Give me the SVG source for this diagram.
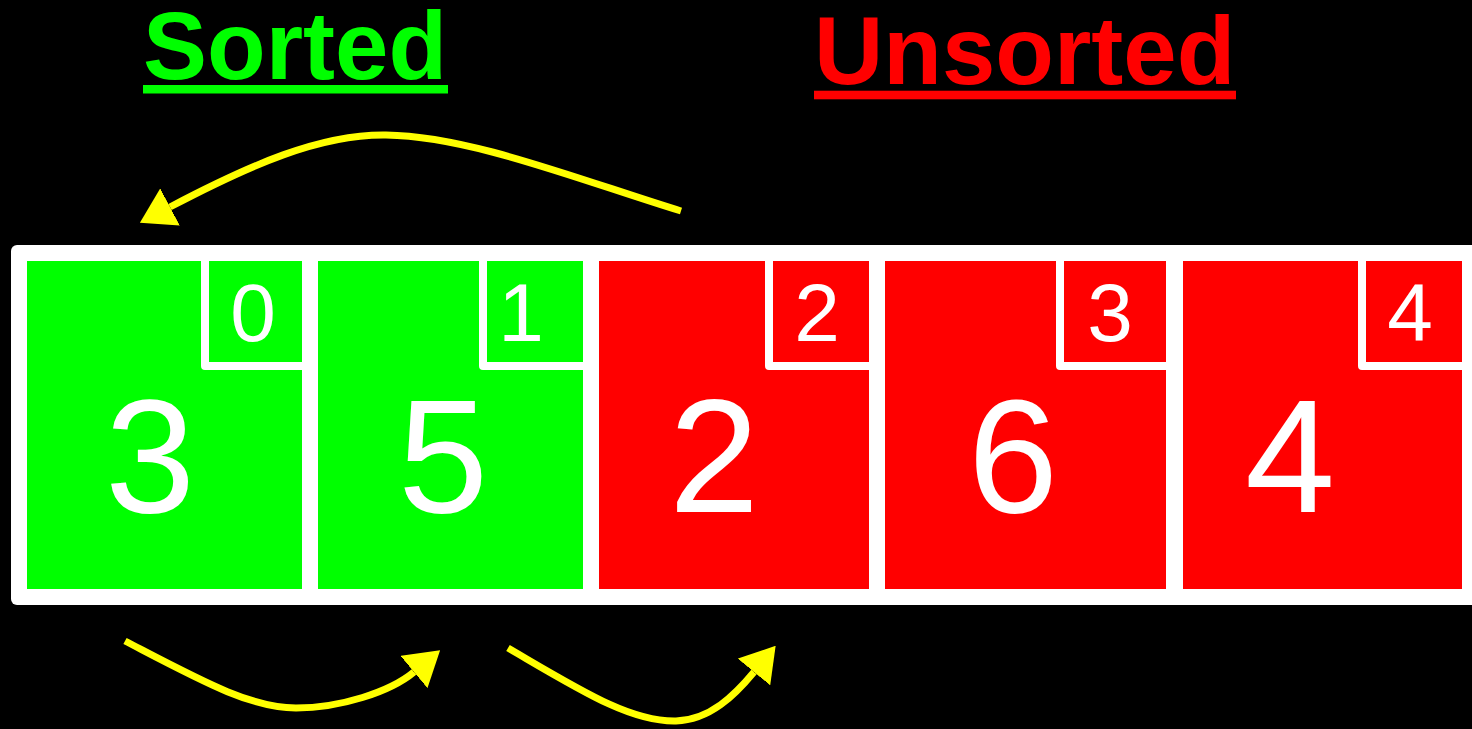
<svg xmlns="http://www.w3.org/2000/svg" width="1472" height="729" viewBox="0 0 1472 729">
  <style>
    .title { font-family: "Liberation Sans", Arial, sans-serif; font-weight: bold; font-size: 96px; }
    .val { font-family: "Liberation Sans", Arial, sans-serif; font-size: 162px; fill: #ffffff; text-anchor: middle; }
    .idx { font-family: "Liberation Sans", Arial, sans-serif; font-size: 82px; fill: #ffffff; text-anchor: middle; }
    .sorted { fill: #00ff00; }
    .unsorted { fill: #ff0000; }
    .ibox { fill: none; stroke: #ffffff; stroke-width: 8; stroke-linejoin: round; }
    .conn { fill: none; stroke: #ffff00; stroke-width: 7; stroke-linecap: butt; }
  </style>
  <defs>
    <marker id="head" markerUnits="userSpaceOnUse" viewBox="0 0 34 42" markerWidth="34" markerHeight="42" refX="0" refY="21" orient="auto">
      <path d="M0,0 L34,21 L0,42 Z" fill="#ffff00"/>
    </marker>
  </defs>
  <rect width="1472" height="729" fill="#000000"/>

  <g id="title-sorted">
    <text class="title sorted" x="143" y="79">Sorted</text>
    <rect class="sorted" x="143" y="85" width="305" height="8.5"/>
  </g>
  <g id="title-unsorted">
    <text class="title unsorted" x="814" y="84">Unsorted</text>
    <rect class="unsorted" x="814" y="90.7" width="422" height="8.6"/>
  </g>

  <g id="array-frame">
    <rect x="11" y="245" width="1480" height="360" rx="6" fill="#ffffff"/>
  </g>

  <g id="cell-0">
    <rect class="sorted" x="27" y="261" width="275" height="328"/>
    <path class="ibox" d="M205 261 V366 H302"/>
    <text class="idx" x="253" y="341">0</text>
    <text class="val" x="150" y="512">3</text>
  </g>
  <g id="cell-1">
    <rect class="sorted" x="318" y="261" width="265" height="328"/>
    <path class="ibox" d="M483 261 V366 H583"/>
    <text class="idx" x="521" y="341">1</text>
    <text class="val" x="443" y="512">5</text>
  </g>
  <g id="cell-2">
    <rect class="unsorted" x="599" y="261" width="270" height="328"/>
    <path class="ibox" d="M769 261 V366 H869"/>
    <text class="idx" x="817" y="341">2</text>
    <text class="val" x="714" y="512">2</text>
  </g>
  <g id="cell-3">
    <rect class="unsorted" x="885" y="261" width="281" height="328"/>
    <path class="ibox" d="M1060 261 V366 H1166"/>
    <text class="idx" x="1110" y="341">3</text>
    <text class="val" x="1013" y="512">6</text>
  </g>
  <g id="cell-4">
    <rect class="unsorted" x="1183" y="261" width="279" height="328"/>
    <path class="ibox" d="M1362 261 V366 H1462"/>
    <text class="idx" x="1410" y="341">4</text>
    <text class="val" x="1290" y="512">4</text>
  </g>

  <g id="connectors">
    <path class="conn" marker-end="url(#head)" d="M681 211 C580 180, 470 136, 386 135 C320 134, 250 165, 170 207"/>
    <path class="conn" marker-end="url(#head)" d="M125 641 C200 680, 250 708, 296 708 C340 708, 390 692, 414 672"/>
    <path class="conn" marker-end="url(#head)" d="M508 648 C580 690, 630 722, 676 721 C710 720, 735 695, 754 672"/>
  </g>
</svg>
